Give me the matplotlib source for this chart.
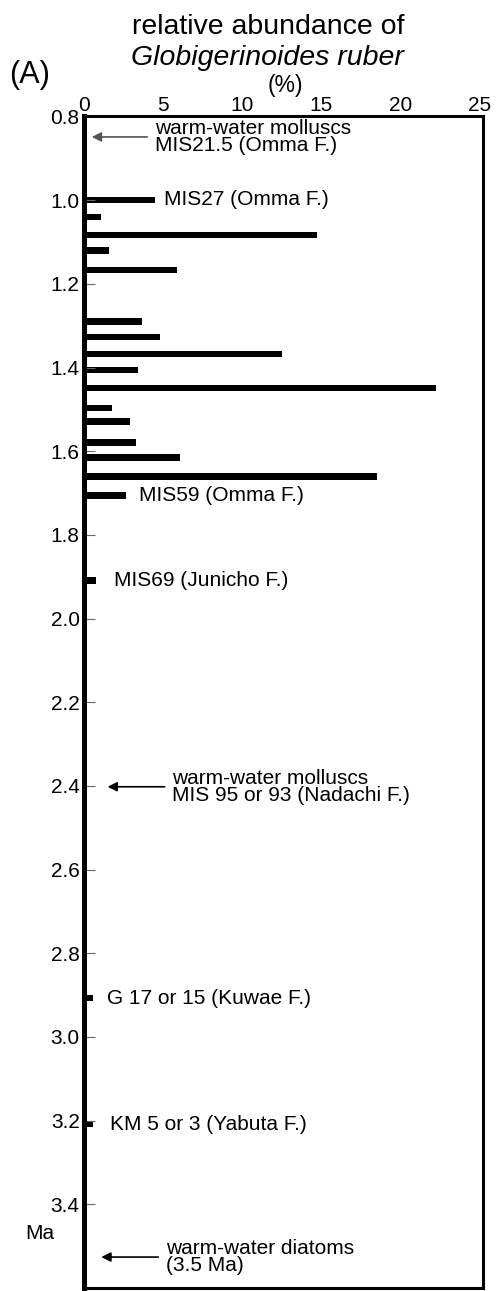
import matplotlib
matplotlib.use('Agg')
import matplotlib.pyplot as plt

plt.rcParams['font.family'] = ['Liberation Sans', 'DejaVu Sans']

# relative abundance of G. ruber (%) against age (Ma)
ages = [1.0, 1.04, 1.083, 1.12, 1.167, 1.29, 1.327, 1.368, 1.406, 1.449,
        1.497, 1.529, 1.579, 1.615, 1.66, 1.706, 1.909, 2.907, 3.208]
abundance = [4.5, 1.1, 14.7, 1.6, 5.9, 3.7, 4.8, 12.5, 3.4, 22.2,
             1.8, 2.9, 3.3, 6.1, 18.5, 2.65, 0.8, 0.6, 0.55]

x_ticks = [0, 5, 10, 15, 20, 25]
y_ticks = [0.8, 1.0, 1.2, 1.4, 1.6, 1.8, 2.0, 2.2, 2.4, 2.6, 2.8, 3.0, 3.2, 3.4]

# plain labels next to bars: (x, age, text)
labels = [
    (5.05, 0.998, 'MIS27 (Omma F.)'),
    (3.5, 1.706, 'MIS59 (Omma F.)'),
    (1.9, 1.909, 'MIS69 (Junicho F.)'),
    (1.45, 2.907, 'G 17 or 15 (Kuwae F.)'),
    (1.64, 3.208, 'KM 5 or 3 (Yabuta F.)'),
]

# arrows pointing at the age axis: (head x, tail x, age, text x, text, colour)
arrows = [
    (0.5, 4.0, 0.849, 4.5, 'warm-water molluscs\nMIS21.5 (Omma F.)', '#555555'),
    (1.5, 5.1, 2.402, 5.55, 'warm-water molluscs\nMIS 95 or 93 (Nadachi F.)', 'black'),
    (1.1, 4.7, 3.526, 5.2, 'warm-water diatoms\n(3.5 Ma)', 'black'),
]

fig = plt.figure(figsize=(4.96, 12.91), dpi=100)
ax = fig.add_axes([0.169, 0.0023, 0.805, 0.9075])

ax.barh(ages, abundance, height=0.016, color='black', left=0)

ax.set_xlim(0, 25.2)
ax.set_ylim(3.6, 0.8)

ax.xaxis.tick_top()
ax.set_xticks(x_ticks)
ax.set_xticklabels([str(t) for t in x_ticks])
ax.tick_params(axis='x', length=0, pad=1, labelsize=15)

ax.set_yticks(y_ticks)
ax.set_yticklabels([f'{t:.1f}' for t in y_ticks])
ax.tick_params(axis='y', direction='in', length=8, width=0.8, color='#666666',
               pad=3, labelsize=15)

ax.spines['left'].set_linewidth(3.6)
for side in ['top', 'right', 'bottom']:
    ax.spines[side].set_linewidth(2.2)

for x, age, txt in labels:
    ax.text(x, age, txt, fontsize=15, va='center', ha='left')

for head, tail, age, tx, txt, col in arrows:
    ax.annotate('', xy=(head, age), xytext=(tail, age),
                arrowprops=dict(arrowstyle='-|>', color=col, lw=1.2,
                                mutation_scale=14, shrinkA=0, shrinkB=0))
    ax.text(tx, age, txt, fontsize=15, va='center', ha='left', linespacing=0.9)

ax.text(-0.11, 3.47, 'Ma', transform=ax.get_yaxis_transform(), fontsize=15,
        ha='center', va='center')

fig.text(0.54, 0.979, 'relative abundance of', fontsize=20.5, ha='center', va='center')
fig.text(0.54, 0.955, 'Globigerinoides ruber', fontsize=20.5, ha='center', va='center',
         style='italic')
fig.text(0.575, 0.934, '(%)', fontsize=16.5, ha='center', va='center')
fig.text(0.06, 0.942, '(A)', fontsize=22, ha='center', va='center')

fig.savefig('out.png', dpi=100)
